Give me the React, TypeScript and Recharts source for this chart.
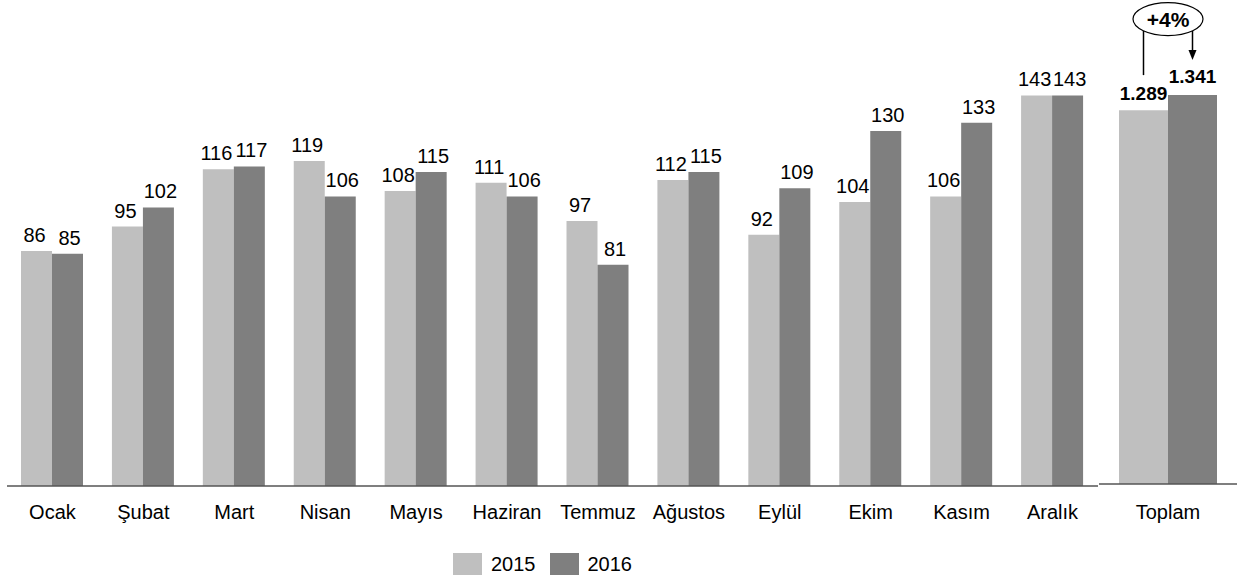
import React from 'react';
import { BarChart, Bar, XAxis, YAxis, LabelList } from 'recharts';

const months = ['Ocak', 'Şubat', 'Mart', 'Nisan', 'Mayıs', 'Haziran', 'Temmuz', 'Ağustos', 'Eylül', 'Ekim', 'Kasım', 'Aralık'];
const values2015 = [86, 95, 116, 119, 108, 111, 97, 112, 92, 104, 106, 143];
const values2016 = [85, 102, 117, 106, 115, 106, 81, 115, 109, 130, 133, 143];
const totalCategories = ['Toplam'];
const total2015 = [1289];
const total2016 = [1341];
const changeText = '+4%';
const seriesNames = ['2015', '2016'];
const seriesColors = ['#bfbfbf', '#7f7f7f'];

const FONT = '"Liberation Sans", Arial, sans-serif';

const monthData = months.map((m, i) => ({ name: m, a: values2015[i], b: values2016[i] }));
const totalData = totalCategories.map((m, i) => ({ name: m, a: total2015[i], b: total2016[i] }));

const fmtThousands = (v: any) => String(v).replace(/\B(?=(\d{3})+(?!\d))/g, '.');

const makeValueLabel = (shift: number, offset: number, size: number, bold: boolean, fmt?: (v: any) => string) => (props: any) => {
  const vb = props.viewBox || props;
  const x = vb.x + vb.width / 2 + shift;
  const y = vb.y - offset;
  return (
    <text x={x} y={y} textAnchor="middle" fontFamily={FONT} fontSize={size} fontWeight={bold ? 'bold' : 'normal'} fill="#000">
      {fmt ? fmt(props.value) : props.value}
    </text>
  );
};

const Annotation = (props: any) => {
  const vb = props.viewBox || props;
  const x = vb.x;
  const y = vb.y;
  const width = vb.width;
  const cx = x;
  const cy = y - 76;
  const rx = 35;
  const ry = 16.5;
  const dx = width / 2;
  const edge = cy + ry * Math.sqrt(Math.max(0, 1 - (dx / rx) * (dx / rx)));
  const ax = x + width / 2;
  const tip = y - 35;
  const lx = x - width / 2;
  return (
    <g>
      <line x1={lx} y1={edge} x2={lx} y2={y - 20} stroke="#000" strokeWidth={1.5} />
      <line x1={ax} y1={edge} x2={ax} y2={tip - 8} stroke="#000" strokeWidth={1.5} />
      <polygon points={`${ax - 4},${tip - 10} ${ax + 4},${tip - 10} ${ax},${tip}`} fill="#000" />
      <ellipse cx={cx} cy={cy} rx={rx} ry={ry} fill="#fff" stroke="#000" strokeWidth={1.2} />
      <text x={cx} y={cy + 7.5} textAnchor="middle" fontFamily={FONT} fontWeight="bold" fontSize={21} fill="#000">
        {changeText}
      </text>
    </g>
  );
};

const tickStyle = { fill: '#000', fontSize: 20, fontFamily: FONT };

export default function App() {
  return (
    <div style={{ position: 'absolute', left: 0, top: 0, width: 1237, height: 583, background: '#fff', overflow: 'hidden' }}>
      <div style={{ position: 'absolute', left: 0, top: 0 }}>
        <BarChart
          width={1100}
          height={583}
          data={monthData}
          margin={{ top: 49, right: 2, bottom: 57, left: 7 }}
          barCategoryGap={14}
          barGap={0}
        >
          <XAxis
            dataKey="name"
            interval={0}
            tickLine={false}
            axisLine={{ stroke: '#555', strokeWidth: 1.5 }}
            tick={tickStyle}
            tickMargin={13}
            height={40}
          />
          <YAxis hide domain={[0, 160]} />
          <Bar dataKey="a" name={seriesNames[0]} fill={seriesColors[0]} isAnimationActive={false}>
            <LabelList dataKey="a" content={makeValueLabel(-2, 9, 20, false)} />
          </Bar>
          <Bar dataKey="b" name={seriesNames[1]} fill={seriesColors[1]} isAnimationActive={false}>
            <LabelList dataKey="b" content={makeValueLabel(2, 9, 20, false)} />
          </Bar>
        </BarChart>
      </div>
      <div style={{ position: 'absolute', left: 1099, top: 0 }}>
        <BarChart
          width={138}
          height={583}
          data={totalData}
          margin={{ top: 49, right: 0, bottom: 59, left: 0 }}
          barCategoryGap={20}
          barGap={0}
        >
          <XAxis
            dataKey="name"
            interval={0}
            tickLine={false}
            axisLine={{ stroke: '#555', strokeWidth: 1.5 }}
            tick={tickStyle}
            tickMargin={15}
            height={40}
          />
          <YAxis hide domain={[0, 1500]} />
          <Bar dataKey="a" name={seriesNames[0]} fill={seriesColors[0]} isAnimationActive={false}>
            <LabelList dataKey="a" content={makeValueLabel(0, 10, 19, true, fmtThousands)} />
          </Bar>
          <Bar dataKey="b" name={seriesNames[1]} fill={seriesColors[1]} isAnimationActive={false}>
            <LabelList dataKey="b" content={makeValueLabel(0, 12, 19, true, fmtThousands)} />
            <LabelList dataKey="b" content={Annotation} />
          </Bar>
        </BarChart>
      </div>
      <div
        style={{
          position: 'absolute',
          left: 453,
          top: 553,
          height: 22,
          display: 'flex',
          alignItems: 'center',
          fontFamily: FONT,
          fontSize: 20,
          color: '#000',
        }}
      >
        {seriesNames.map((s, i) => (
          <div key={s} style={{ display: 'flex', alignItems: 'center', marginRight: 14 }}>
            <div style={{ width: 29, height: 22, background: seriesColors[i], marginRight: 9 }} />
            <span>{s}</span>
          </div>
        ))}
      </div>
    </div>
  );
}
